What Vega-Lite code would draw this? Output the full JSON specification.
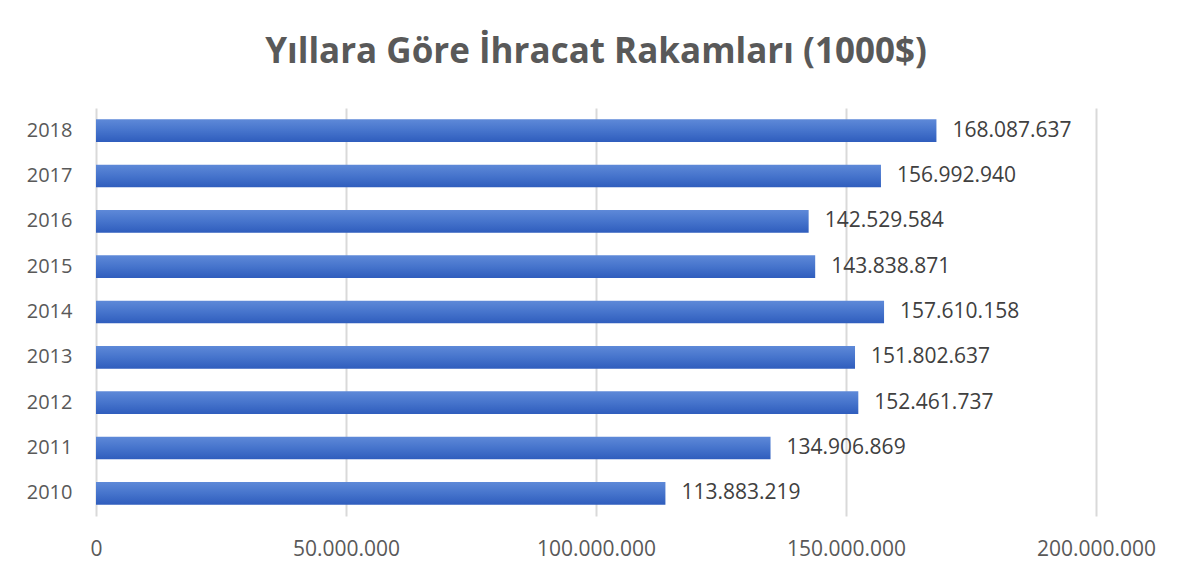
{
  "$schema": "https://vega.github.io/schema/vega-lite/v6.json",
  "autosize": "none",
  "width": 1000,
  "height": 408,
  "padding": {"left": 96, "top": 108, "right": 86, "bottom": 65},
  "background": "white",
  "config": {
    "locale": {"number": {"decimal": ",", "thousands": ".", "grouping": [3], "currency": ["", "$"]}},
    "view": {"stroke": null},
    "font": "Open Sans"
  },
  "title": {
    "text": "Yıllara Göre İhracat Rakamları (1000$)",
    "font": "Open Sans",
    "fontSize": 35,
    "fontWeight": "bold",
    "color": "#595959",
    "anchor": "middle",
    "offset": 38
  },
  "data": {
    "values": [
      {"yil": "2010", "deger": 113883219},
      {"yil": "2011", "deger": 134906869},
      {"yil": "2012", "deger": 152461737},
      {"yil": "2013", "deger": 151802637},
      {"yil": "2014", "deger": 157610158},
      {"yil": "2015", "deger": 143838871},
      {"yil": "2016", "deger": 142529584},
      {"yil": "2017", "deger": 156992940},
      {"yil": "2018", "deger": 168087637}
    ]
  },
  "encoding": {
    "y": {
      "field": "yil",
      "type": "ordinal",
      "sort": "descending",
      "scale": {"paddingInner": 0.5, "paddingOuter": 0.25},
      "axis": {
        "title": null,
        "domain": false,
        "ticks": false,
        "labelPadding": 24,
        "labelFontSize": 20,
        "labelColor": "#595959",
        "labelFont": "Open Sans"
      }
    },
    "x": {
      "field": "deger",
      "type": "quantitative",
      "scale": {"domain": [0, 200000000], "nice": false},
      "axis": {
        "title": null,
        "values": [0, 50000000, 100000000, 150000000, 200000000],
        "format": ",d",
        "domain": false,
        "ticks": false,
        "grid": true,
        "gridColor": "#d9d9d9",
        "gridWidth": 2,
        "labelFlush": false,
        "labelPadding": 22,
        "labelFontSize": 21,
        "labelColor": "#595959",
        "labelFont": "Open Sans"
      }
    }
  },
  "layer": [
    {
      "mark": {
        "type": "bar",
        "fill": {
          "gradient": "linear",
          "x1": 0, "y1": 0, "x2": 0, "y2": 1,
          "stops": [
            {"offset": 0, "color": "#5e89d8"},
            {"offset": 0.5, "color": "#4674cc"},
            {"offset": 1, "color": "#2f5dbd"}
          ]
        }
      }
    },
    {
      "mark": {"type": "text", "align": "left", "baseline": "middle", "dx": 16, "fontSize": 21, "color": "#404040", "font": "Open Sans"},
      "encoding": {
        "text": {"field": "deger", "type": "quantitative", "format": ",d"}
      }
    }
  ]
}
